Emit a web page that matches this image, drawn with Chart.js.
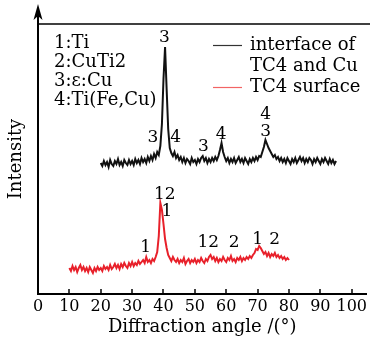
<!DOCTYPE html>
<html><head><meta charset="utf-8">
<script src="https://cdn.jsdelivr.net/npm/chart.js@4.4.0/dist/chart.umd.min.js"></script>
<style>html,body{margin:0;padding:0;background:#fff;}#wrap{width:370px;height:338px;}</style>
</head><body><div id="wrap"><canvas id="c" width="370" height="338"></canvas></div>
<script>
// ---- data ----
const xTickLabels = [0,10,20,30,40,50,60,70,80,90,100];
const blackAngle = [
20,20.5,21,21.5,22,22.5,23,23.5,24,24.5,
25,25.5,26,26.5,27,27.5,28,28.5,29,29.5,
30,30.5,31,31.5,32,32.5,33,33.5,34,34.5,
35,35.5,36,36.5,37,37.5,38,38.5,39,39.5,
40,40.5,41,41.5,42,42.5,43,43.5,44,44.5,
45,45.5,46,46.5,47,47.5,48,48.5,49,49.5,
50,50.5,51,51.5,52,52.5,53,53.5,54,54.5,
55,55.5,56,56.5,57,57.5,58,58.5,59,59.5,
60,60.5,61,61.5,62,62.5,63,63.5,64,64.5,
65,65.5,66,66.5,67,67.5,68,68.5,69,69.5,
70,70.5,71,71.5,72,72.5,73,73.5,74,74.5,
75,75.5,76,76.5,77,77.5,78,78.5,79,79.5,
80,80.5,81,81.5,82,82.5,83,83.5,84,84.5,
85,85.5,86,86.5,87,87.5,88,88.5,89,89.5,
90,90.5,91,91.5,92,92.5,93,93.5,94,94.5,
95];
const blackIntensity = [
131,128,133,129,132,127,134,130,128,133,
130,135,129,132,128,134,131,129,134,130,
133,129,135,131,134,130,136,132,135,131,
137,133,138,134,140,136,142,139,148,170,
215,247,205,165,146,141,138,142,136,139,
134,137,132,136,131,135,133,130,136,132,
134,130,135,132,136,138,133,136,131,135,
132,136,133,137,134,138,144,151,142,137,
133,136,131,135,132,136,131,134,137,132,
135,131,136,133,130,135,132,136,133,137,
134,138,137,142,147,154,150,146,143,140,
137,139,135,137,133,136,132,135,131,136,
133,130,135,132,136,131,134,137,133,136,
131,135,132,136,134,130,135,132,136,133,
130,135,132,136,133,130,135,131,134,130,
133];
const redAngle = [
10,10.5,11,11.5,12,12.5,13,13.5,14,14.5,
15,15.5,16,16.5,17,17.5,18,18.5,19,19.5,
20,20.5,21,21.5,22,22.5,23,23.5,24,24.5,
25,25.5,26,26.5,27,27.5,28,28.5,29,29.5,
30,30.5,31,31.5,32,32.5,33,33.5,34,34.5,
35,35.5,36,36.5,37,37.5,38,38.5,39,39.5,
40,40.5,41,41.5,42,42.5,43,43.5,44,44.5,
45,45.5,46,46.5,47,47.5,48,48.5,49,49.5,
50,50.5,51,51.5,52,52.5,53,53.5,54,54.5,
55,55.5,56,56.5,57,57.5,58,58.5,59,59.5,
60,60.5,61,61.5,62,62.5,63,63.5,64,64.5,
65,65.5,66,66.5,67,67.5,68,68.5,69,69.5,
70,70.5,71,71.5,72,72.5,73,73.5,74,74.5,
75,75.5,76,76.5,77,77.5,78,78.5,79,79.5,
80];
const redIntensity = [
26,23,28,24,27,22,26,29,24,27,
23,26,22,27,24,21,26,23,27,24,
26,23,28,25,27,24,29,25,27,30,
26,29,25,30,27,31,28,26,31,28,
32,28,31,29,33,30,32,34,31,37,
32,34,31,35,33,37,42,58,91,84,
70,55,46,39,36,33,37,34,32,35,
31,34,32,36,30,33,35,31,34,32,
35,31,34,32,36,33,31,35,33,37,
39,35,37,33,36,32,35,33,37,34,
32,36,34,38,33,35,32,36,34,37,
33,36,34,37,35,38,36,39,41,45,
44,48,46,43,40,42,38,41,37,40,
38,41,37,39,36,38,35,37,34,36,
34];
const peakLabelText = ['3','3','4','3','4','3','4','12','1','1','12','2','1','2'];
const peakLabelAngle = [40.3,36.6,43.9,52.7,58.4,72.6,72.6,40.4,41.1,34.3,54.3,62.5,70.0,75.4];
const peakLabelIntensity = [256,156,156,147,159,162,179,99,82,46,51,51,54,54];
const phaseKey = ['1:Ti','2:CuTi2','3:\u03B5:Cu','4:Ti(Fe,Cu)'];
const seriesNames = ['interface of\nTC4 and Cu','TC4 surface'];

const SERIF = "'DejaVu Serif', 'Liberation Serif', serif";

const toPts = (xs, ys) => xs.map((x, i) => ({x: x, y: ys[i]}));

const decor = {
  id: 'decor',
  afterDraw(chart) {
    const ctx = chart.ctx, a = chart.chartArea;
    const xs = chart.scales.x, ys = chart.scales.y;
    ctx.save();
    // top frame line
    ctx.strokeStyle = '#000'; ctx.lineWidth = 1.5;
    ctx.beginPath(); ctx.moveTo(a.left, a.top); ctx.lineTo(chart.width, a.top); ctx.stroke();
    // y axis arrow
    ctx.lineWidth = 2;
    ctx.beginPath(); ctx.moveTo(a.left, a.top); ctx.lineTo(a.left, 10); ctx.stroke();
    ctx.fillStyle = '#000';
    ctx.beginPath();
    ctx.moveTo(a.left, 4); ctx.lineTo(a.left + 4.5, 20); ctx.lineTo(a.left, 16); ctx.lineTo(a.left - 4.5, 20);
    ctx.closePath(); ctx.fill();
    // inward x ticks
    ctx.lineWidth = 1.5;
    xTickLabels.forEach(v => {
      if (v === 0) return;
      const px = Math.round(xs.getPixelForValue(v));
      ctx.beginPath(); ctx.moveTo(px, a.bottom); ctx.lineTo(px, a.bottom - 5); ctx.stroke();
    });
    // peak labels
    ctx.font = '17px ' + SERIF;
    ctx.textAlign = 'center'; ctx.textBaseline = 'middle';
    peakLabelText.forEach((t, i) => {
      ctx.fillText(t, xs.getPixelForValue(peakLabelAngle[i]), ys.getPixelForValue(peakLabelIntensity[i]));
    });
    // phase key
    ctx.textAlign = 'left';
    ctx.font = '18px ' + SERIF;
    phaseKey.forEach((t, i) => ctx.fillText(t, 54, 43 + i * 19));
    // legend
    ctx.font = '18px ' + SERIF;
    const lines0 = chart.data.datasets[0].label.split('\n');
    ctx.strokeStyle = '#333'; ctx.lineWidth = 1.2;
    ctx.beginPath(); ctx.moveTo(213, 45.5); ctx.lineTo(242, 45.5); ctx.stroke();
    lines0.forEach((t, i) => ctx.fillText(t, 250, 45 + i * 21));
    ctx.strokeStyle = '#f26464';
    ctx.beginPath(); ctx.moveTo(213, 87.5); ctx.lineTo(242, 87.5); ctx.stroke();
    ctx.fillText(chart.data.datasets[1].label, 250, 87);
    ctx.restore();
  }
};

new Chart(document.getElementById('c'), {
  type: 'line',
  data: {
    datasets: [
      {label: seriesNames[0], data: toPts(blackAngle, blackIntensity), borderColor: '#111', borderWidth: 2, pointRadius: 0, tension: 0},
      {label: seriesNames[1], data: toPts(redAngle, redIntensity), borderColor: '#e8202a', borderWidth: 2, pointRadius: 0, tension: 0}
    ]
  },
  options: {
    responsive: false, animation: false,
    layout: {padding: {top: 24, right: 0, left: 0, bottom: 0}},
    plugins: {legend: {display: false}, tooltip: {enabled: false}},
    scales: {
      x: {
        type: 'linear', min: 0, max: 104.7,
        afterBuildTicks: s => { s.ticks = xTickLabels.map(v => ({value: v})); },
        afterFit: s => { s.height = 44; },
        grid: {display: false, drawTicks: false},
        border: {display: true, color: '#000', width: 2},
        ticks: {color: '#000', padding: 3, maxRotation: 0, autoSkip: false, font: {family: SERIF, size: 16}},
        title: {display: true, text: 'Diffraction angle /(\u00B0)', color: '#000', padding: {top: 0, bottom: 0}, font: {family: SERIF, size: 18}}
      },
      y: {
        min: 0, max: 270,
        afterFit: s => { s.width = 38; },
        grid: {display: false, drawTicks: false},
        border: {display: true, color: '#000', width: 2},
        ticks: {display: false},
        title: {display: true, text: 'Intensity', color: '#000', padding: {top: 6, bottom: 0}, font: {family: SERIF, size: 18}}
      }
    }
  },
  plugins: [decor]
});
</script></body></html>
